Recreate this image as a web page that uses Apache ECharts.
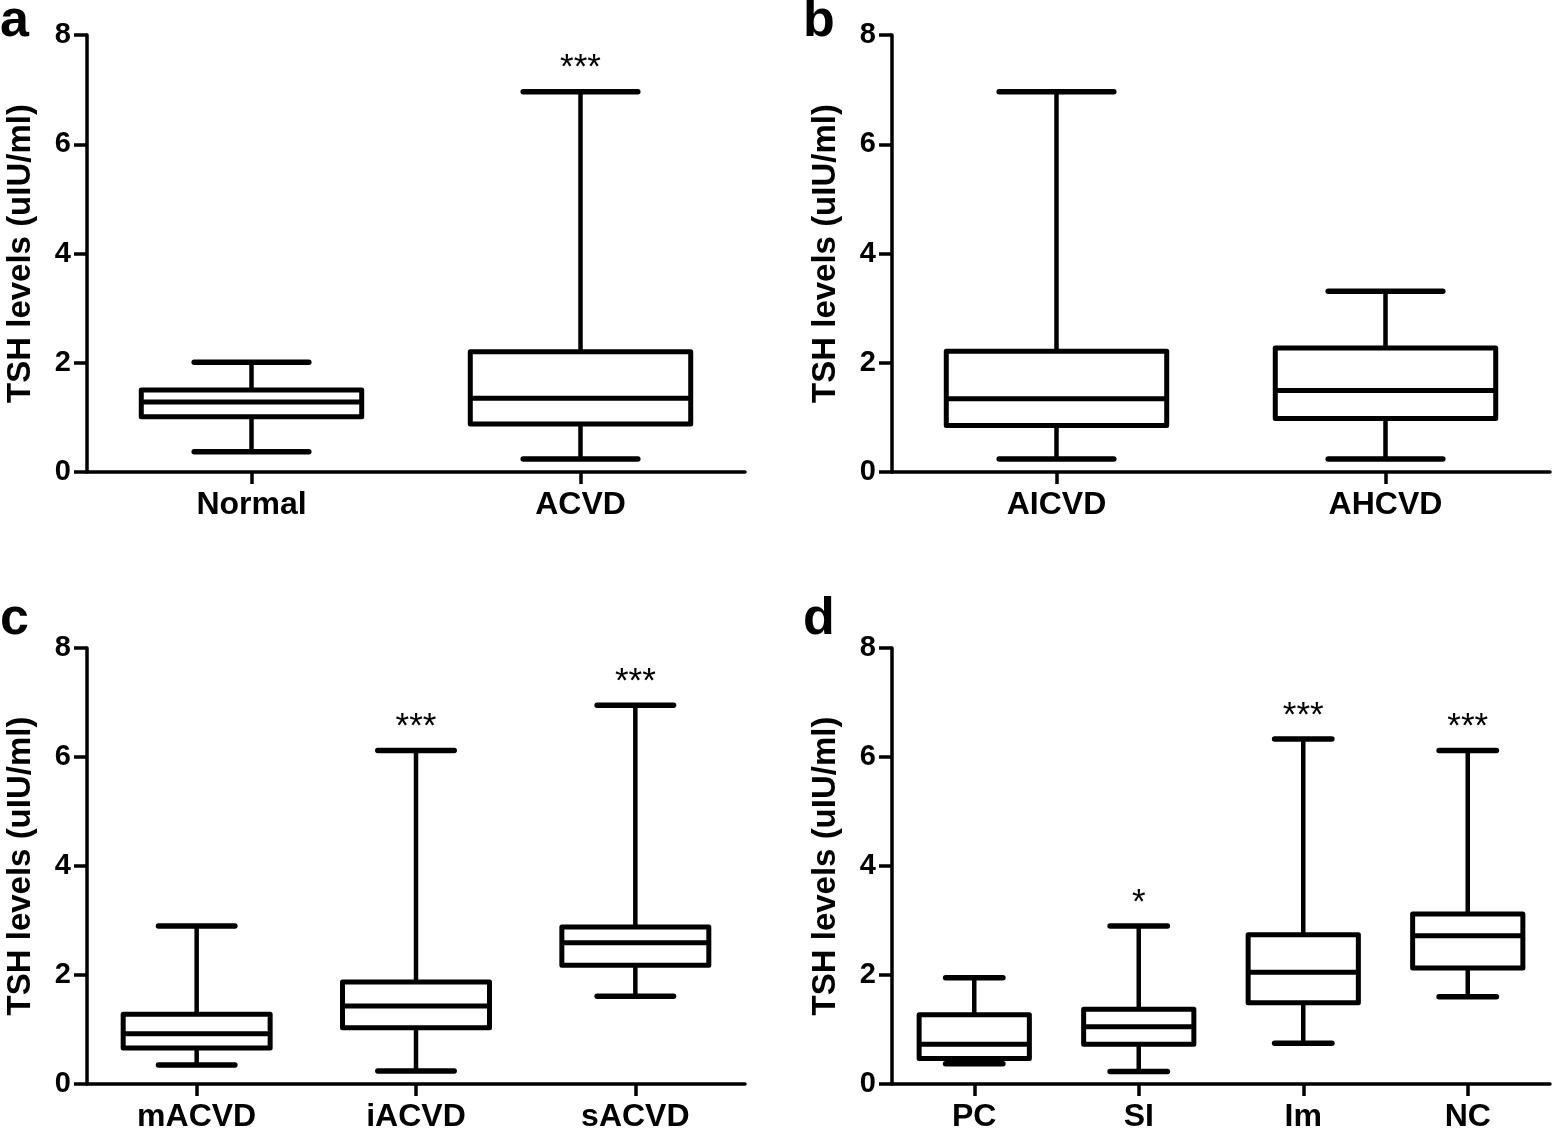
<!DOCTYPE html>
<html>
<head>
<meta charset="utf-8">
<script src="https://cdn.jsdelivr.net/npm/echarts@6/dist/echarts.min.js"></script>
<style>
html,body{margin:0;padding:0;background:#fff;}
#chart{width:1552px;height:1129px;}
</style>
</head>
<body>
<div id="chart"></div>
<script>
// ---- Data ----
const yTicks = [0, 2, 4, 6, 8];
const yName = 'TSH levels (uIU/ml)';

// Panel a
const catsA = ['Normal', 'ACVD'];
const lowA  = [0.37, 0.24];
const q1A   = [1.01, 0.88];
const medA  = [1.28, 1.35];
const q3A   = [1.50, 2.20];
const highA = [2.01, 6.96];
const sigA  = ['', '***'];

// Panel b
const catsB = ['AICVD', 'AHCVD'];
const lowB  = [0.24, 0.24];
const q1B   = [0.85, 0.98];
const medB  = [1.34, 1.49];
const q3B   = [2.21, 2.27];
const highB = [6.96, 3.31];
const sigB  = ['', ''];

// Panel c
const catsC = ['mACVD', 'iACVD', 'sACVD'];
const lowC  = [0.35, 0.24, 1.61];
const q1C   = [0.66, 1.03, 2.18];
const medC  = [0.92, 1.43, 2.59];
const q3C   = [1.28, 1.87, 2.88];
const highC = [2.90, 6.12, 6.95];
const sigC  = ['', '***', '***'];

// Panel d
const catsD = ['PC', 'SI', 'Im', 'NC'];
const lowD  = [0.37, 0.23, 0.75, 1.60];
const q1D   = [0.47, 0.73, 1.49, 2.13];
const medD  = [0.73, 1.05, 2.05, 2.72];
const q3D   = [1.27, 1.37, 2.74, 3.12];
const highD = [1.95, 2.90, 6.33, 6.12];
const sigD  = ['', '*', '***', '***'];

const panels = [
  {cats: catsA, low: lowA, q1: q1A, med: medA, q3: q3A, high: highA, sig: sigA},
  {cats: catsB, low: lowB, q1: q1B, med: medB, q3: q3B, high: highB, sig: sigB},
  {cats: catsC, low: lowC, q1: q1C, med: medC, q3: q3C, high: highC, sig: sigC},
  {cats: catsD, low: lowD, q1: q1D, med: medD, q3: q3D, high: highD, sig: sigD}
];

const FONT = 'Arial, "Liberation Sans", Helvetica, sans-serif';
const grids = [
  {left: 87,  top: 35,  width: 658, height: 437, outerBoundsMode: 'none', containLabel: false},
  {left: 892, top: 35,  width: 658, height: 437, outerBoundsMode: 'none', containLabel: false},
  {left: 87,  top: 648, width: 658, height: 436, outerBoundsMode: 'none', containLabel: false},
  {left: 892, top: 648, width: 658, height: 436, outerBoundsMode: 'none', containLabel: false}
];

function renderFor(p) {
  return function (params, api) {
    const idx = api.value(0);
    const center = api.coord([idx, api.value(3)]);
    const cx = center[0];
    const catW = api.size([1, 0])[0];
    const bw = catW * 0.67;
    const cw = bw * 0.52;
    const yLow = api.coord([idx, api.value(1)])[1];
    const yQ1 = api.coord([idx, api.value(2)])[1];
    const yMed = center[1];
    const yQ3 = api.coord([idx, api.value(4)])[1];
    const yHigh = api.coord([idx, api.value(5)])[1];
    const ln = {stroke: '#000', lineWidth: 5.5, lineCap: 'round', fill: null};
    const children = [
      {type: 'line', shape: {x1: cx, y1: yQ3, x2: cx, y2: yHigh}, style: {stroke: '#000', lineWidth: 4.5}},
      {type: 'line', shape: {x1: cx, y1: yQ1, x2: cx, y2: yLow}, style: {stroke: '#000', lineWidth: 4.5}},
      {type: 'line', shape: {x1: cx - cw / 2, y1: yHigh, x2: cx + cw / 2, y2: yHigh}, style: ln},
      {type: 'line', shape: {x1: cx - cw / 2, y1: yLow, x2: cx + cw / 2, y2: yLow}, style: ln},
      {type: 'rect', shape: {x: cx - bw / 2, y: yQ3, width: bw, height: yQ1 - yQ3},
        style: {stroke: '#000', lineWidth: 5, fill: '#fff', lineJoin: 'round'}},
      {type: 'line', shape: {x1: cx - bw / 2, y1: yMed, x2: cx + bw / 2, y2: yMed}, style: {stroke: '#000', lineWidth: 5}}
    ];
    const s = p.sig[params.dataIndex];
    if (s) {
      children.push({type: 'text', style: {text: s, x: cx, y: yHigh - 23, align: 'center', verticalAlign: 'middle',
        font: '35px ' + FONT, fill: '#000'}});
    }
    return {type: 'group', children: children};
  };
}

const option = {
  animation: false,
  backgroundColor: '#fff',
  grid: grids,
  graphic: [
    {type: 'text', left: 0, top: -4, style: {text: 'a', font: 'bold 52px ' + FONT, fill: '#000'}},
    {type: 'text', left: 803, top: -4, style: {text: 'b', font: 'bold 52px ' + FONT, fill: '#000'}},
    {type: 'text', left: 0, top: 594, style: {text: 'c', font: 'bold 52px ' + FONT, fill: '#000'}},
    {type: 'text', left: 803, top: 594, style: {text: 'd', font: 'bold 52px ' + FONT, fill: '#000'}}
  ],
  xAxis: panels.map((p, i) => ({
    type: 'category', gridIndex: i, data: p.cats, boundaryGap: true,
    axisLine: {show: true, lineStyle: {color: '#000', width: 3.5}},
    axisTick: {show: true, alignWithLabel: true, length: 12, lineStyle: {color: '#000', width: 3.5}},
    axisLabel: {color: '#000', fontFamily: FONT, fontWeight: 'bold', fontSize: 32, margin: 17},
    splitLine: {show: false}
  })),
  yAxis: panels.map((p, i) => ({
    type: 'value', gridIndex: i, min: 0, max: 8, interval: 2,
    name: yName, nameLocation: 'middle', nameRotate: 90, nameGap: 50,
    nameTextStyle: {color: '#000', fontFamily: FONT, fontWeight: 'bold', fontSize: 33},
    axisLine: {show: true, lineStyle: {color: '#000', width: 3.5}},
    axisTick: {show: true, length: 13, lineStyle: {color: '#000', width: 3.5}},
    axisLabel: {color: '#000', fontFamily: FONT, fontWeight: 'bold', fontSize: 29, margin: 16,
      formatter: v => (yTicks.indexOf(v) >= 0 ? String(v) : '')},
    splitLine: {show: false}
  })),
  series: panels.map((p, i) => ({
    type: 'custom', xAxisIndex: i, yAxisIndex: i, clip: false,
    renderItem: renderFor(p),
    encode: {x: 0, y: [1, 2, 3, 4, 5]},
    data: p.cats.map((c, k) => [k, p.low[k], p.q1[k], p.med[k], p.q3[k], p.high[k]])
  }))
};

const chart = echarts.init(document.getElementById('chart'), null, {renderer: 'canvas'});
chart.setOption(option);
</script>
</body>
</html>
